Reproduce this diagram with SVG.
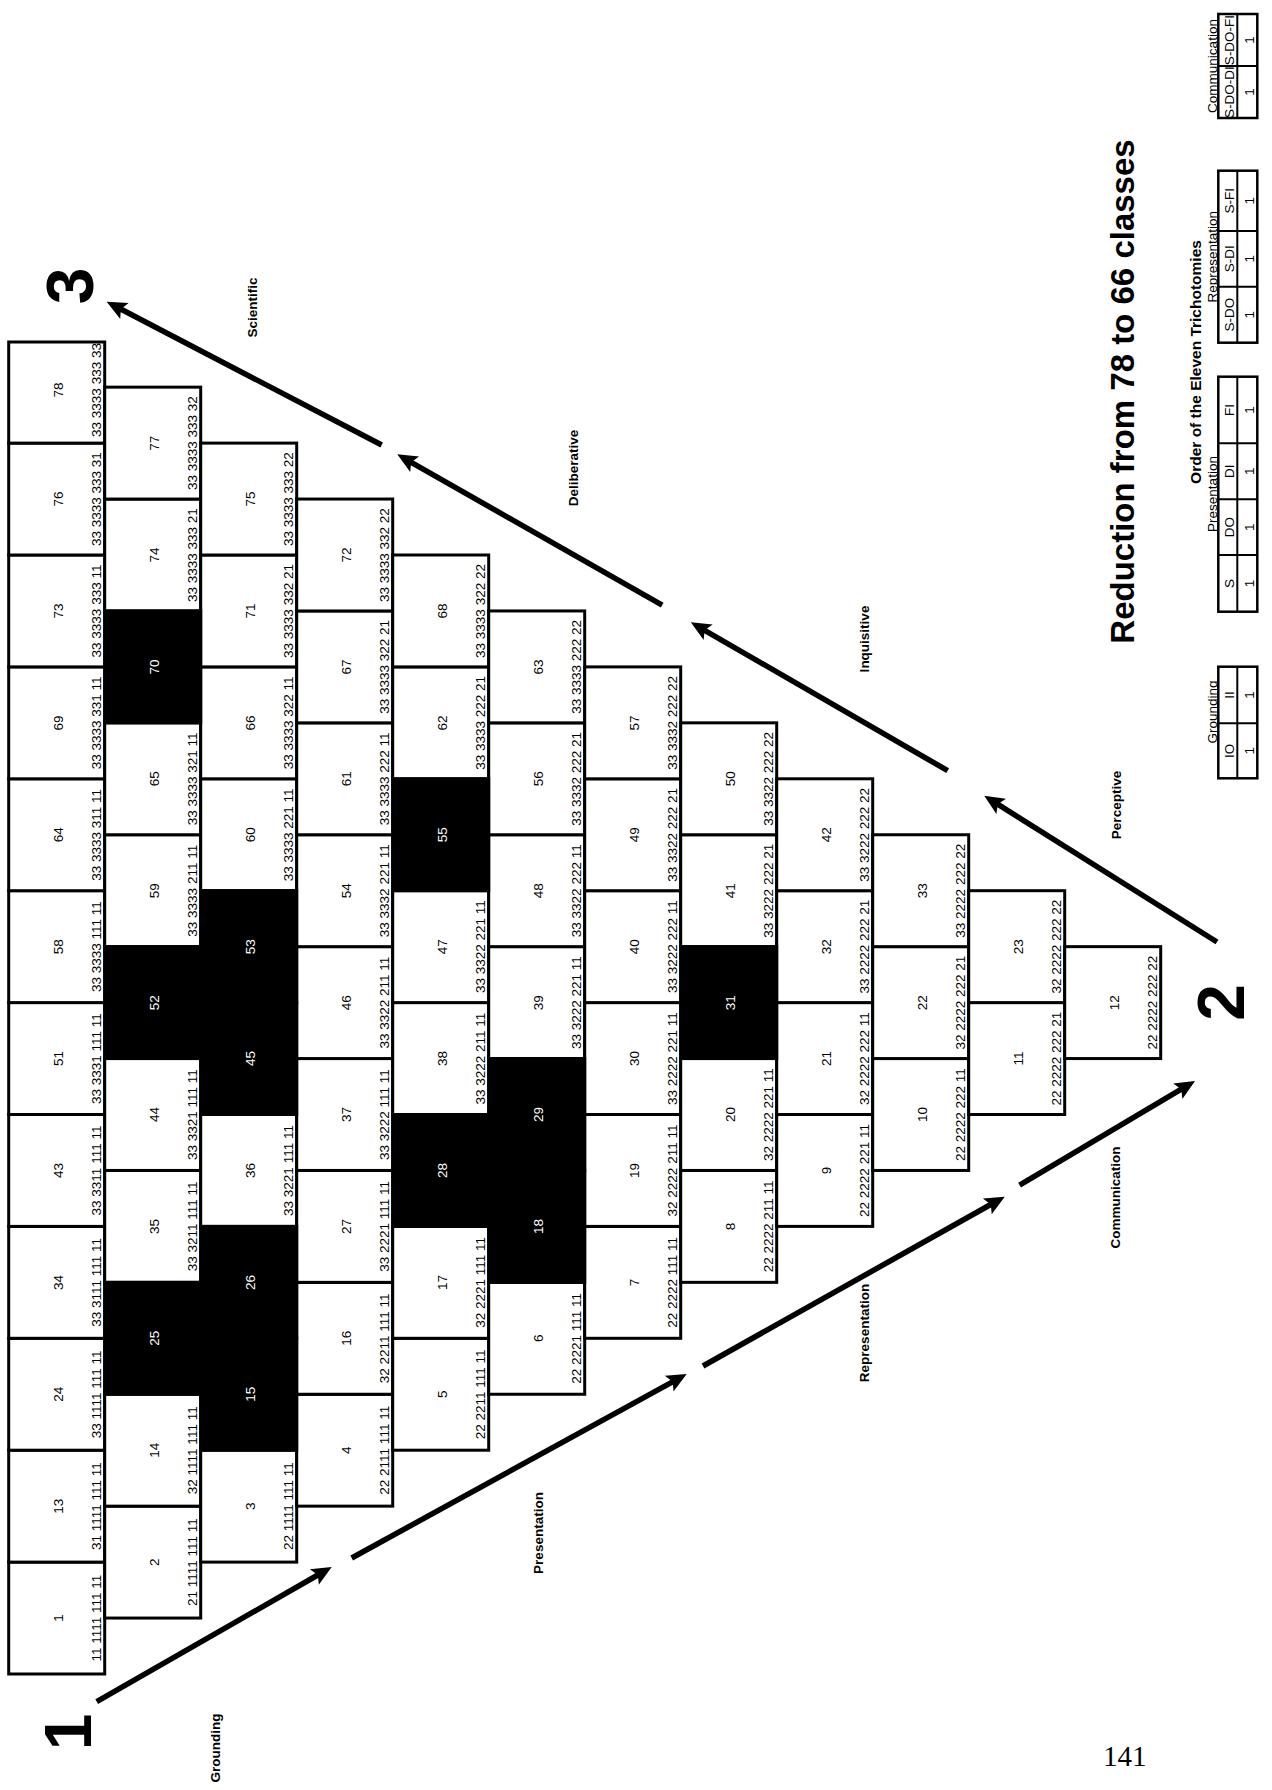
<svg xmlns="http://www.w3.org/2000/svg" width="1272" height="1790" viewBox="0 0 1272 1790">
<defs>
<style>
.cell{fill:#fff;stroke:#000;stroke-width:3}
.blk{fill:#000;stroke:#000;stroke-width:3}
.n,.k{font-family:"Liberation Sans",Arial,sans-serif;font-size:13.5px;text-anchor:middle;fill:#000}
.w{fill:#fff}
.lbl{font-family:"Liberation Sans",Arial,sans-serif;font-weight:bold;font-size:13.5px;text-anchor:middle}
.big{font-family:"Liberation Sans",Arial,sans-serif;font-weight:bold;font-size:66px;text-anchor:middle}
.arr{stroke:#000;stroke-width:5.5;fill:none;marker-end:url(#ah)}
.tb{fill:#fff;stroke:#000;stroke-width:2.5}
.tl{stroke:#000;stroke-width:2}
.tt{font-family:"Liberation Sans",Arial,sans-serif;font-size:13.5px;text-anchor:middle}
</style>
<marker id="ah" markerUnits="userSpaceOnUse" viewBox="-10 -10 24 20" markerWidth="24" markerHeight="20" refX="0" refY="0" orient="auto" overflow="visible">
<path d="M-8,-9 L12,0 L-8,9 L-4,0 Z" fill="#000"/>
</marker>
</defs>
<rect width="1272" height="1790" fill="#fff"/>

<g id="cells">
<g id="cell-1" transform="translate(8.7,1562.1)"><rect class="cell" width="96" height="111.9"/><text class="n" transform="translate(54,56) rotate(-90)">1</text><text class="k" transform="translate(92.5,56) rotate(-90)">11 1111 111 11</text></g>
<g id="cell-13" transform="translate(8.7,1450.2)"><rect class="cell" width="96" height="111.9"/><text class="n" transform="translate(54,56) rotate(-90)">13</text><text class="k" transform="translate(92.5,56) rotate(-90)">31 1111 111 11</text></g>
<g id="cell-24" transform="translate(8.7,1338.3)"><rect class="cell" width="96" height="111.9"/><text class="n" transform="translate(54,56) rotate(-90)">24</text><text class="k" transform="translate(92.5,56) rotate(-90)">33 1111 111 11</text></g>
<g id="cell-34" transform="translate(8.7,1226.4)"><rect class="cell" width="96" height="111.9"/><text class="n" transform="translate(54,56) rotate(-90)">34</text><text class="k" transform="translate(92.5,56) rotate(-90)">33 3111 111 11</text></g>
<g id="cell-43" transform="translate(8.7,1114.5)"><rect class="cell" width="96" height="111.9"/><text class="n" transform="translate(54,56) rotate(-90)">43</text><text class="k" transform="translate(92.5,56) rotate(-90)">33 3311 111 11</text></g>
<g id="cell-51" transform="translate(8.7,1002.6)"><rect class="cell" width="96" height="111.9"/><text class="n" transform="translate(54,56) rotate(-90)">51</text><text class="k" transform="translate(92.5,56) rotate(-90)">33 3331 111 11</text></g>
<g id="cell-58" transform="translate(8.7,890.7)"><rect class="cell" width="96" height="111.9"/><text class="n" transform="translate(54,56) rotate(-90)">58</text><text class="k" transform="translate(92.5,56) rotate(-90)">33 3333 111 11</text></g>
<g id="cell-64" transform="translate(8.7,778.8)"><rect class="cell" width="96" height="111.9"/><text class="n" transform="translate(54,56) rotate(-90)">64</text><text class="k" transform="translate(92.5,56) rotate(-90)">33 3333 311 11</text></g>
<g id="cell-69" transform="translate(8.7,666.9)"><rect class="cell" width="96" height="111.9"/><text class="n" transform="translate(54,56) rotate(-90)">69</text><text class="k" transform="translate(92.5,56) rotate(-90)">33 3333 331 11</text></g>
<g id="cell-73" transform="translate(8.7,555)"><rect class="cell" width="96" height="111.9"/><text class="n" transform="translate(54,56) rotate(-90)">73</text><text class="k" transform="translate(92.5,56) rotate(-90)">33 3333 333 11</text></g>
<g id="cell-76" transform="translate(8.7,443.1)"><rect class="cell" width="96" height="111.9"/><text class="n" transform="translate(54,56) rotate(-90)">76</text><text class="k" transform="translate(92.5,56) rotate(-90)">33 3333 333 31</text></g>
<g id="cell-78" transform="translate(8.7,342)"><rect class="cell" width="96" height="101.1"/><text class="n" transform="translate(54,48) rotate(-90)">78</text><text class="k" transform="translate(92.5,48) rotate(-90)">33 3333 333 33</text></g>

<g id="cell-2" transform="translate(104.7,1506.15)"><rect class="cell" width="96" height="111.9"/><text class="n" transform="translate(54,56) rotate(-90)">2</text><text class="k" transform="translate(92.5,56) rotate(-90)">21 1111 111 11</text></g>
<g id="cell-14" transform="translate(104.7,1394.25)"><rect class="cell" width="96" height="111.9"/><text class="n" transform="translate(54,56) rotate(-90)">14</text><text class="k" transform="translate(92.5,56) rotate(-90)">32 1111 111 11</text></g>
<g id="cell-35" transform="translate(104.7,1170.45)"><rect class="cell" width="96" height="111.9"/><text class="n" transform="translate(54,56) rotate(-90)">35</text><text class="k" transform="translate(92.5,56) rotate(-90)">33 3211 111 11</text></g>
<g id="cell-44" transform="translate(104.7,1058.55)"><rect class="cell" width="96" height="111.9"/><text class="n" transform="translate(54,56) rotate(-90)">44</text><text class="k" transform="translate(92.5,56) rotate(-90)">33 3321 111 11</text></g>
<g id="cell-59" transform="translate(104.7,834.75)"><rect class="cell" width="96" height="111.9"/><text class="n" transform="translate(54,56) rotate(-90)">59</text><text class="k" transform="translate(92.5,56) rotate(-90)">33 3333 211 11</text></g>
<g id="cell-65" transform="translate(104.7,722.85)"><rect class="cell" width="96" height="111.9"/><text class="n" transform="translate(54,56) rotate(-90)">65</text><text class="k" transform="translate(92.5,56) rotate(-90)">33 3333 321 11</text></g>
<g id="cell-74" transform="translate(104.7,499.05)"><rect class="cell" width="96" height="111.9"/><text class="n" transform="translate(54,56) rotate(-90)">74</text><text class="k" transform="translate(92.5,56) rotate(-90)">33 3333 333 21</text></g>
<g id="cell-77" transform="translate(104.7,387.15)"><rect class="cell" width="96" height="111.9"/><text class="n" transform="translate(54,56) rotate(-90)">77</text><text class="k" transform="translate(92.5,56) rotate(-90)">33 3333 333 32</text></g>

<g id="cell-3" transform="translate(200.7,1450.2)"><rect class="cell" width="96" height="111.9"/><text class="n" transform="translate(54,56) rotate(-90)">3</text><text class="k" transform="translate(92.5,56) rotate(-90)">22 1111 111 11</text></g>
<g id="cell-36" transform="translate(200.7,1114.5)"><rect class="cell" width="96" height="111.9"/><text class="n" transform="translate(54,56) rotate(-90)">36</text><text class="k" transform="translate(92.5,56) rotate(-90)">33 3221 111 11</text></g>
<g id="cell-60" transform="translate(200.7,778.8)"><rect class="cell" width="96" height="111.9"/><text class="n" transform="translate(54,56) rotate(-90)">60</text><text class="k" transform="translate(92.5,56) rotate(-90)">33 3333 221 11</text></g>
<g id="cell-66" transform="translate(200.7,666.9)"><rect class="cell" width="96" height="111.9"/><text class="n" transform="translate(54,56) rotate(-90)">66</text><text class="k" transform="translate(92.5,56) rotate(-90)">33 3333 322 11</text></g>
<g id="cell-71" transform="translate(200.7,555)"><rect class="cell" width="96" height="111.9"/><text class="n" transform="translate(54,56) rotate(-90)">71</text><text class="k" transform="translate(92.5,56) rotate(-90)">33 3333 332 21</text></g>
<g id="cell-75" transform="translate(200.7,443.1)"><rect class="cell" width="96" height="111.9"/><text class="n" transform="translate(54,56) rotate(-90)">75</text><text class="k" transform="translate(92.5,56) rotate(-90)">33 3333 333 22</text></g>

<g id="cell-4" transform="translate(296.7,1394.25)"><rect class="cell" width="96" height="111.9"/><text class="n" transform="translate(54,56) rotate(-90)">4</text><text class="k" transform="translate(92.5,56) rotate(-90)">22 2111 111 11</text></g>
<g id="cell-16" transform="translate(296.7,1282.35)"><rect class="cell" width="96" height="111.9"/><text class="n" transform="translate(54,56) rotate(-90)">16</text><text class="k" transform="translate(92.5,56) rotate(-90)">32 2211 111 11</text></g>
<g id="cell-27" transform="translate(296.7,1170.45)"><rect class="cell" width="96" height="111.9"/><text class="n" transform="translate(54,56) rotate(-90)">27</text><text class="k" transform="translate(92.5,56) rotate(-90)">33 2221 111 11</text></g>
<g id="cell-37" transform="translate(296.7,1058.55)"><rect class="cell" width="96" height="111.9"/><text class="n" transform="translate(54,56) rotate(-90)">37</text><text class="k" transform="translate(92.5,56) rotate(-90)">33 3222 111 11</text></g>
<g id="cell-46" transform="translate(296.7,946.65)"><rect class="cell" width="96" height="111.9"/><text class="n" transform="translate(54,56) rotate(-90)">46</text><text class="k" transform="translate(92.5,56) rotate(-90)">33 3322 211 11</text></g>
<g id="cell-54" transform="translate(296.7,834.75)"><rect class="cell" width="96" height="111.9"/><text class="n" transform="translate(54,56) rotate(-90)">54</text><text class="k" transform="translate(92.5,56) rotate(-90)">33 3332 221 11</text></g>
<g id="cell-61" transform="translate(296.7,722.85)"><rect class="cell" width="96" height="111.9"/><text class="n" transform="translate(54,56) rotate(-90)">61</text><text class="k" transform="translate(92.5,56) rotate(-90)">33 3333 222 11</text></g>
<g id="cell-67" transform="translate(296.7,610.95)"><rect class="cell" width="96" height="111.9"/><text class="n" transform="translate(54,56) rotate(-90)">67</text><text class="k" transform="translate(92.5,56) rotate(-90)">33 3333 322 21</text></g>
<g id="cell-72" transform="translate(296.7,499.05)"><rect class="cell" width="96" height="111.9"/><text class="n" transform="translate(54,56) rotate(-90)">72</text><text class="k" transform="translate(92.5,56) rotate(-90)">33 3333 332 22</text></g>

<g id="cell-5" transform="translate(392.7,1338.3)"><rect class="cell" width="96" height="111.9"/><text class="n" transform="translate(54,56) rotate(-90)">5</text><text class="k" transform="translate(92.5,56) rotate(-90)">22 2211 111 11</text></g>
<g id="cell-17" transform="translate(392.7,1226.4)"><rect class="cell" width="96" height="111.9"/><text class="n" transform="translate(54,56) rotate(-90)">17</text><text class="k" transform="translate(92.5,56) rotate(-90)">32 2221 111 11</text></g>
<g id="cell-38" transform="translate(392.7,1002.6)"><rect class="cell" width="96" height="111.9"/><text class="n" transform="translate(54,56) rotate(-90)">38</text><text class="k" transform="translate(92.5,56) rotate(-90)">33 3222 211 11</text></g>
<g id="cell-47" transform="translate(392.7,890.7)"><rect class="cell" width="96" height="111.9"/><text class="n" transform="translate(54,56) rotate(-90)">47</text><text class="k" transform="translate(92.5,56) rotate(-90)">33 3322 221 11</text></g>
<g id="cell-62" transform="translate(392.7,666.9)"><rect class="cell" width="96" height="111.9"/><text class="n" transform="translate(54,56) rotate(-90)">62</text><text class="k" transform="translate(92.5,56) rotate(-90)">33 3333 222 21</text></g>
<g id="cell-68" transform="translate(392.7,555)"><rect class="cell" width="96" height="111.9"/><text class="n" transform="translate(54,56) rotate(-90)">68</text><text class="k" transform="translate(92.5,56) rotate(-90)">33 3333 322 22</text></g>

<g id="cell-6" transform="translate(488.7,1282.35)"><rect class="cell" width="96" height="111.9"/><text class="n" transform="translate(54,56) rotate(-90)">6</text><text class="k" transform="translate(92.5,56) rotate(-90)">22 2221 111 11</text></g>
<g id="cell-39" transform="translate(488.7,946.65)"><rect class="cell" width="96" height="111.9"/><text class="n" transform="translate(54,56) rotate(-90)">39</text><text class="k" transform="translate(92.5,56) rotate(-90)">33 3222 221 11</text></g>
<g id="cell-48" transform="translate(488.7,834.75)"><rect class="cell" width="96" height="111.9"/><text class="n" transform="translate(54,56) rotate(-90)">48</text><text class="k" transform="translate(92.5,56) rotate(-90)">33 3322 222 11</text></g>
<g id="cell-56" transform="translate(488.7,722.85)"><rect class="cell" width="96" height="111.9"/><text class="n" transform="translate(54,56) rotate(-90)">56</text><text class="k" transform="translate(92.5,56) rotate(-90)">33 3332 222 21</text></g>
<g id="cell-63" transform="translate(488.7,610.95)"><rect class="cell" width="96" height="111.9"/><text class="n" transform="translate(54,56) rotate(-90)">63</text><text class="k" transform="translate(92.5,56) rotate(-90)">33 3333 222 22</text></g>

<g id="cell-7" transform="translate(584.7,1226.4)"><rect class="cell" width="96" height="111.9"/><text class="n" transform="translate(54,56) rotate(-90)">7</text><text class="k" transform="translate(92.5,56) rotate(-90)">22 2222 111 11</text></g>
<g id="cell-19" transform="translate(584.7,1114.5)"><rect class="cell" width="96" height="111.9"/><text class="n" transform="translate(54,56) rotate(-90)">19</text><text class="k" transform="translate(92.5,56) rotate(-90)">32 2222 211 11</text></g>
<g id="cell-30" transform="translate(584.7,1002.6)"><rect class="cell" width="96" height="111.9"/><text class="n" transform="translate(54,56) rotate(-90)">30</text><text class="k" transform="translate(92.5,56) rotate(-90)">33 2222 221 11</text></g>
<g id="cell-40" transform="translate(584.7,890.7)"><rect class="cell" width="96" height="111.9"/><text class="n" transform="translate(54,56) rotate(-90)">40</text><text class="k" transform="translate(92.5,56) rotate(-90)">33 3222 222 11</text></g>
<g id="cell-49" transform="translate(584.7,778.8)"><rect class="cell" width="96" height="111.9"/><text class="n" transform="translate(54,56) rotate(-90)">49</text><text class="k" transform="translate(92.5,56) rotate(-90)">33 3322 222 21</text></g>
<g id="cell-57" transform="translate(584.7,666.9)"><rect class="cell" width="96" height="111.9"/><text class="n" transform="translate(54,56) rotate(-90)">57</text><text class="k" transform="translate(92.5,56) rotate(-90)">33 3332 222 22</text></g>

<g id="cell-8" transform="translate(680.7,1170.45)"><rect class="cell" width="96" height="111.9"/><text class="n" transform="translate(54,56) rotate(-90)">8</text><text class="k" transform="translate(92.5,56) rotate(-90)">22 2222 211 11</text></g>
<g id="cell-20" transform="translate(680.7,1058.55)"><rect class="cell" width="96" height="111.9"/><text class="n" transform="translate(54,56) rotate(-90)">20</text><text class="k" transform="translate(92.5,56) rotate(-90)">32 2222 221 11</text></g>
<g id="cell-41" transform="translate(680.7,834.75)"><rect class="cell" width="96" height="111.9"/><text class="n" transform="translate(54,56) rotate(-90)">41</text><text class="k" transform="translate(92.5,56) rotate(-90)">33 3222 222 21</text></g>
<g id="cell-50" transform="translate(680.7,722.85)"><rect class="cell" width="96" height="111.9"/><text class="n" transform="translate(54,56) rotate(-90)">50</text><text class="k" transform="translate(92.5,56) rotate(-90)">33 3322 222 22</text></g>

<g id="cell-9" transform="translate(776.7,1114.5)"><rect class="cell" width="96" height="111.9"/><text class="n" transform="translate(54,56) rotate(-90)">9</text><text class="k" transform="translate(92.5,56) rotate(-90)">22 2222 221 11</text></g>
<g id="cell-21" transform="translate(776.7,1002.6)"><rect class="cell" width="96" height="111.9"/><text class="n" transform="translate(54,56) rotate(-90)">21</text><text class="k" transform="translate(92.5,56) rotate(-90)">32 2222 222 11</text></g>
<g id="cell-32" transform="translate(776.7,890.7)"><rect class="cell" width="96" height="111.9"/><text class="n" transform="translate(54,56) rotate(-90)">32</text><text class="k" transform="translate(92.5,56) rotate(-90)">33 2222 222 21</text></g>
<g id="cell-42" transform="translate(776.7,778.8)"><rect class="cell" width="96" height="111.9"/><text class="n" transform="translate(54,56) rotate(-90)">42</text><text class="k" transform="translate(92.5,56) rotate(-90)">33 3222 222 22</text></g>

<g id="cell-10" transform="translate(872.7,1058.55)"><rect class="cell" width="96" height="111.9"/><text class="n" transform="translate(54,56) rotate(-90)">10</text><text class="k" transform="translate(92.5,56) rotate(-90)">22 2222 222 11</text></g>
<g id="cell-22" transform="translate(872.7,946.65)"><rect class="cell" width="96" height="111.9"/><text class="n" transform="translate(54,56) rotate(-90)">22</text><text class="k" transform="translate(92.5,56) rotate(-90)">32 2222 222 21</text></g>
<g id="cell-33" transform="translate(872.7,834.75)"><rect class="cell" width="96" height="111.9"/><text class="n" transform="translate(54,56) rotate(-90)">33</text><text class="k" transform="translate(92.5,56) rotate(-90)">33 2222 222 22</text></g>

<g id="cell-11" transform="translate(968.7,1002.6)"><rect class="cell" width="96" height="111.9"/><text class="n" transform="translate(54,56) rotate(-90)">11</text><text class="k" transform="translate(92.5,56) rotate(-90)">22 2222 222 21</text></g>
<g id="cell-23" transform="translate(968.7,890.7)"><rect class="cell" width="96" height="111.9"/><text class="n" transform="translate(54,56) rotate(-90)">23</text><text class="k" transform="translate(92.5,56) rotate(-90)">32 2222 222 22</text></g>

<g id="cell-12" transform="translate(1064.7,946.65)"><rect class="cell" width="96" height="111.9"/><text class="n" transform="translate(54,56) rotate(-90)">12</text><text class="k" transform="translate(92.5,56) rotate(-90)">22 2222 222 22</text></g>

<g id="cell-25" transform="translate(104.7,1282.35)"><rect class="blk" width="96" height="111.9"/><text class="n w" transform="translate(54,56) rotate(-90)">25</text></g>
<g id="cell-52" transform="translate(104.7,946.65)"><rect class="blk" width="96" height="111.9"/><text class="n w" transform="translate(54,56) rotate(-90)">52</text></g>
<g id="cell-70" transform="translate(104.7,610.95)"><rect class="blk" width="96" height="111.9"/><text class="n w" transform="translate(54,56) rotate(-90)">70</text></g>
<g id="cell-15" transform="translate(200.7,1338.3)"><rect class="blk" width="96" height="111.9"/><text class="n w" transform="translate(54,56) rotate(-90)">15</text></g>
<g id="cell-26" transform="translate(200.7,1226.4)"><rect class="blk" width="96" height="111.9"/><text class="n w" transform="translate(54,56) rotate(-90)">26</text></g>
<g id="cell-45" transform="translate(200.7,1002.6)"><rect class="blk" width="96" height="111.9"/><text class="n w" transform="translate(54,56) rotate(-90)">45</text></g>
<g id="cell-53" transform="translate(200.7,890.7)"><rect class="blk" width="96" height="111.9"/><text class="n w" transform="translate(54,56) rotate(-90)">53</text></g>
<g id="cell-28" transform="translate(392.7,1114.5)"><rect class="blk" width="96" height="111.9"/><text class="n w" transform="translate(54,56) rotate(-90)">28</text></g>
<g id="cell-55" transform="translate(392.7,778.8)"><rect class="blk" width="96" height="111.9"/><text class="n w" transform="translate(54,56) rotate(-90)">55</text></g>
<g id="cell-18" transform="translate(488.7,1170.45)"><rect class="blk" width="96" height="111.9"/><text class="n w" transform="translate(54,56) rotate(-90)">18</text></g>
<g id="cell-29" transform="translate(488.7,1058.55)"><rect class="blk" width="96" height="111.9"/><text class="n w" transform="translate(54,56) rotate(-90)">29</text></g>
<g id="cell-31" transform="translate(680.7,946.65)"><rect class="blk" width="96" height="111.9"/><text class="n w" transform="translate(54,56) rotate(-90)">31</text></g>
</g>

<g id="connectors">
<line class="arr" x1="96.7" y1="1701.7" x2="321.3" y2="1573"/>
<line class="arr" x1="351.7" y1="1558" x2="676.2" y2="1379.8"/>
<line class="arr" x1="703" y1="1366" x2="994.3" y2="1202.5"/>
<line class="arr" x1="1019.6" y1="1185.2" x2="1184.7" y2="1087.1"/>
<line class="arr" x1="1217" y1="942" x2="994.4" y2="802.2"/>
<line class="arr" x1="947.7" y1="770.7" x2="701.2" y2="628.3"/>
<line class="arr" x1="662.2" y1="605.2" x2="407.7" y2="460.3"/>
<line class="arr" x1="381.7" y1="445" x2="117.3" y2="307.3"/>
</g>

<g id="side-labels">
<text class="lbl" transform="translate(220,1748) rotate(-90)">Grounding</text>
<text class="lbl" transform="translate(543,1533) rotate(-90)">Presentation</text>
<text class="lbl" transform="translate(869,1333) rotate(-90)">Representation</text>
<text class="lbl" transform="translate(1120,1197.5) rotate(-90)">Communication</text>
<text class="lbl" transform="translate(1121,805) rotate(-90)">Perceptive</text>
<text class="lbl" transform="translate(869,639) rotate(-90)">Inquisitive</text>
<text class="lbl" transform="translate(578,468) rotate(-90)">Deliberative</text>
<text class="lbl" transform="translate(256.5,307.5) rotate(-90)">Scientific</text>
</g>

<g id="vertices">
<text class="big" transform="translate(90.7,1732) rotate(-90)">1</text>
<text class="big" transform="translate(1244,1002.5) rotate(-90)">2</text>
<text class="big" transform="translate(93,286) rotate(-90)">3</text>
</g>

<g id="title">
<text transform="translate(1134,391.5) rotate(-90)" font-family="Liberation Sans, Arial, sans-serif" font-weight="bold" font-size="33" text-anchor="middle">Reduction from 78 to 66 classes</text>
<text transform="translate(1201,362) rotate(-90)" font-family="Liberation Sans, Arial, sans-serif" font-weight="bold" font-size="15.5" text-anchor="middle">Order of the Eleven Trichotomies</text>
</g>

<g id="tbl-grounding">
<text class="tt" transform="translate(1216.5,712) rotate(-90)">Grounding</text>
<rect class="tb" x="1218.3" y="666.7" width="39" height="111.6"/>
<line class="tl" x1="1237.3" y1="666.7" x2="1237.3" y2="778.3"/>
<line class="tl" x1="1218.3" y1="723.3" x2="1257.3" y2="723.3"/>
<text class="tt" transform="translate(1233.5,750.8) rotate(-90)">IO</text>
<text class="tt" transform="translate(1253.5,750.8) rotate(-90)">1</text>
<text class="tt" transform="translate(1233.5,695) rotate(-90)">II</text>
<text class="tt" transform="translate(1253.5,695) rotate(-90)">1</text>
</g>

<g id="tbl-presentation">
<text class="tt" transform="translate(1216.5,494) rotate(-90)">Presentation</text>
<rect class="tb" x="1218.3" y="376.7" width="39" height="235"/>
<line class="tl" x1="1237.3" y1="376.7" x2="1237.3" y2="611.7"/>
<line class="tl" x1="1218.3" y1="555" x2="1257.3" y2="555"/>
<line class="tl" x1="1218.3" y1="499.3" x2="1257.3" y2="499.3"/>
<line class="tl" x1="1218.3" y1="443.3" x2="1257.3" y2="443.3"/>
<text class="tt" transform="translate(1233.5,583.4) rotate(-90)">S</text>
<text class="tt" transform="translate(1253.5,583.4) rotate(-90)">1</text>
<text class="tt" transform="translate(1233.5,527.2) rotate(-90)">DO</text>
<text class="tt" transform="translate(1253.5,527.2) rotate(-90)">1</text>
<text class="tt" transform="translate(1233.5,471.3) rotate(-90)">DI</text>
<text class="tt" transform="translate(1253.5,471.3) rotate(-90)">1</text>
<text class="tt" transform="translate(1233.5,410) rotate(-90)">FI</text>
<text class="tt" transform="translate(1253.5,410) rotate(-90)">1</text>
</g>

<g id="tbl-representation">
<text class="tt" transform="translate(1216.5,256.7) rotate(-90)">Representation</text>
<rect class="tb" x="1218.3" y="170.7" width="39" height="172"/>
<line class="tl" x1="1237.3" y1="170.7" x2="1237.3" y2="342.7"/>
<line class="tl" x1="1218.3" y1="231" x2="1257.3" y2="231"/>
<line class="tl" x1="1218.3" y1="286.7" x2="1257.3" y2="286.7"/>
<text class="tt" transform="translate(1233.5,314.7) rotate(-90)">S-DO</text>
<text class="tt" transform="translate(1253.5,314.7) rotate(-90)">1</text>
<text class="tt" transform="translate(1233.5,258.8) rotate(-90)">S-DI</text>
<text class="tt" transform="translate(1253.5,258.8) rotate(-90)">1</text>
<text class="tt" transform="translate(1233.5,200.8) rotate(-90)">S-FI</text>
<text class="tt" transform="translate(1253.5,200.8) rotate(-90)">1</text>
</g>

<g id="tbl-communication">
<text class="tt" transform="translate(1216.5,66) rotate(-90)">Communication</text>
<rect class="tb" x="1218.3" y="14" width="39" height="104"/>
<line class="tl" x1="1237.3" y1="14" x2="1237.3" y2="118"/>
<line class="tl" x1="1218.3" y1="66" x2="1257.3" y2="66"/>
<text class="tt" transform="translate(1233.5,92) rotate(-90)">S-DO-DI</text>
<text class="tt" transform="translate(1253.5,92) rotate(-90)">1</text>
<text class="tt" transform="translate(1233.5,40) rotate(-90)">S-DO-FI</text>
<text class="tt" transform="translate(1253.5,40) rotate(-90)">1</text>
</g>

<text id="page-number" x="1103" y="1766" font-family="Liberation Serif, Times New Roman, serif" font-size="29">141</text>
</svg>
